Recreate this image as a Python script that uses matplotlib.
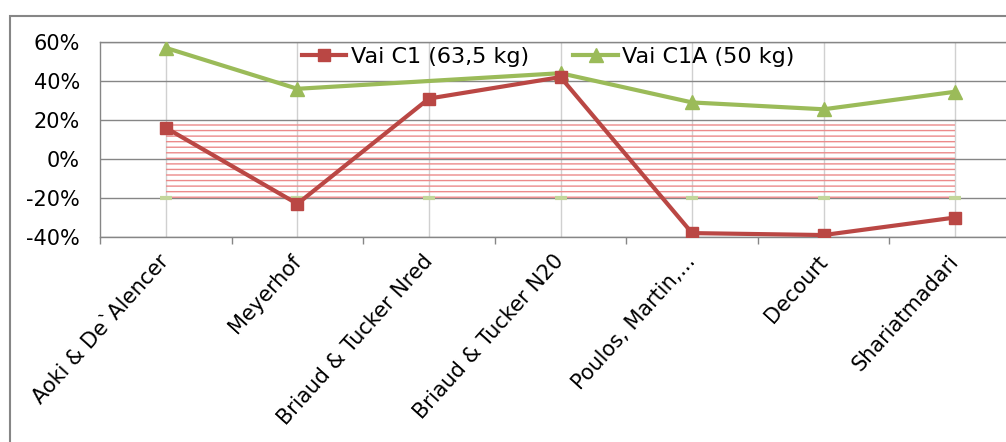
import matplotlib.pyplot as plt
import matplotlib as mpl
from matplotlib.patches import Rectangle

# Data
methods = ['Aoki & De`Alencer', 'Meyerhof', 'Briaud & Tucker Nred', 'Briaud & Tucker N20',
           'Poulos, Martin,...', 'Decourt', 'Shariatmadari']
vai_c1 = [16, -23, 31, 42, -38, -39, -30]
vai_c1a = [57, 36, 40, 44, 29, 25.5, 34.5]
band_upper = [19, 19, 19, 19, 19, 19, 19]
band_lower = [-20, -20, -20, -20, -20, -20, -20]
yticks = [-40, -20, 0, 20, 40, 60]

red = '#BA4744'
green = '#9BBB59'
grid_col = '#868686'

mpl.rcParams['hatch.linewidth'] = 1.0

fig = plt.figure(figsize=(10.06, 4.42), dpi=100)
ax = fig.add_axes([100 / 1006, (442 - 237) / 442, 921 / 1006, 195 / 442])

x = list(range(len(methods)))

# tolerance band
ax.fill_between(x, band_lower, band_upper, facecolor='none', edgecolor='#EC8A8A',
                hatch='---', linewidth=0, zorder=1)
ax.plot(x, band_lower, linestyle='none', marker='_', color='#C3D69B',
        markersize=8, mew=3, zorder=2)

ax.plot(x, vai_c1, '-s', color=red, lw=3, markersize=8.5, label='Vai C1 (63,5 kg)', zorder=4)
ax.plot(x, vai_c1a, '-^', color=green, lw=3, markersize=10, label='Vai C1A (50 kg)',
        markevery=[0, 1, 3, 4, 5, 6], zorder=3)

ax.set_xlim(-0.5, len(methods) - 0.5)
ax.set_ylim(-40, 60)
ax.set_yticks(yticks)
ax.set_yticklabels([f'{v}%' for v in yticks])
ax.set_xticks(x)
ax.set_xticklabels(methods, rotation=48, ha='right', va='center', rotation_mode='anchor')
ax.set_xticks([i - 0.5 for i in range(len(methods) + 1)], minor=True)

ax.tick_params(axis='y', length=0, pad=14.5, labelsize=15)
ax.tick_params(axis='x', which='major', length=0, pad=15, labelsize=15)
ax.tick_params(axis='x', which='minor', length=5, color=grid_col, width=1)

ax.grid(axis='y', color=grid_col, lw=1, zorder=0)
ax.grid(axis='x', which='major', color='#D0D0D0', lw=1, zorder=0)
ax.set_axisbelow(True)
for s in ax.spines.values():
    s.set_color(grid_col)
    s.set_linewidth(1)

fig.legend(loc='center', bbox_to_anchor=(0.545, 0.871), ncol=2, frameon=False,
           fontsize=16, handlelength=2.0, columnspacing=2.0, handletextpad=0.2)

# outer chart border
fig.patches.append(Rectangle((10 / 1006, -0.1), 1.2, (442 - 16) / 442 + 0.1,
                             transform=fig.transFigure, fill=False,
                             edgecolor=grid_col, lw=1.5))

fig.savefig('out.png', dpi=100)
